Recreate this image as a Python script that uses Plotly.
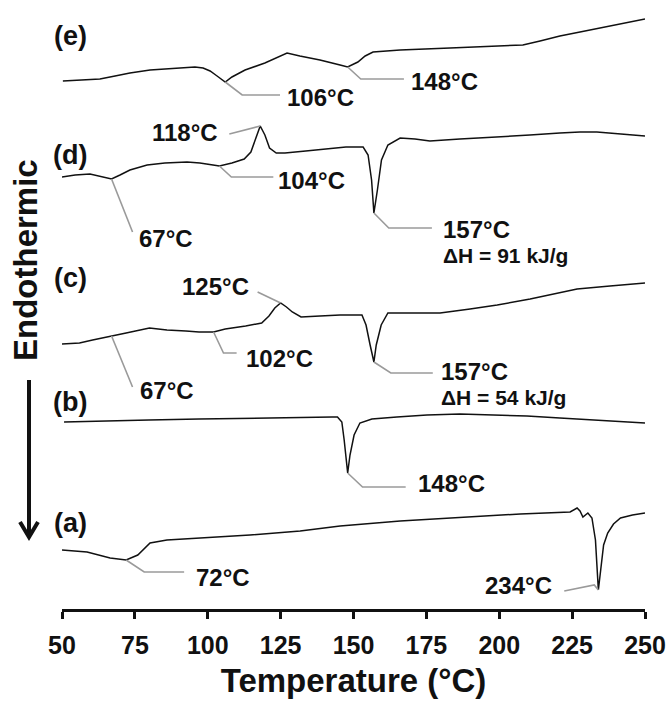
import numpy as np
import plotly.graph_objects as go

FONT = "Liberation Sans, Arial, Helvetica, sans-serif"
INK = "#111111"
LEADER = "#9a9a9a"

# Temperature axis
x_range = [50, 250]
x_ticks = [50, 75, 100, 125, 150, 175, 200, 225, 250]

# DSC heat-flow traces (a.u.), stacked with vertical offsets
temp_a = [50, 58.6, 66.5, 72, 76, 78, 80.2, 86, 97.3, 114.5, 131.7, 145.4, 166, 187.6,
          207.2, 224.3, 226.7, 227.7, 228.7, 230.4, 231.8, 233, 234, 234.8, 235.8,
          237.2, 239.2, 241.6, 245.7, 250]
hf_a = [59, 57, 51, 49, 54, 60, 66, 69, 71, 74, 78, 83, 88, 92,
        95, 97, 101, 98, 92, 96, 91, 69, 19, 39, 64,
        76, 85, 91, 94, 96]

temp_b = [50.7, 62.7, 79.8, 97, 114.2, 131.4, 142.7, 144.5, 146, 146.8, 147.5, 148,
          148.8, 150.2, 152.2, 156.3, 164.9, 175.2, 186.5, 198.2, 209.5, 220.8, 233.5, 250]
hf_b = [187, 188, 189, 190, 191, 192, 192, 192, 187, 169, 149, 136,
        154, 174, 186, 190, 192, 194, 195, 194, 193, 191, 189, 186]

temp_c = [50, 56, 60.5, 64, 67, 72, 80, 86, 92.5, 97, 102, 106, 113, 118.5, 121, 123,
          125, 127, 129, 132, 138.5, 145.4, 152.9, 154.3, 155.7, 157, 157.8, 159.5,
          161.8, 169.4, 179.7, 190, 199.3, 210.6, 220.8, 226.7, 238, 250]
hf_c = [265, 266, 269, 271, 273, 276, 281, 279, 278, 277, 277, 280, 283, 286, 293, 301,
        306, 302, 297, 292, 293, 294, 294, 284, 264, 247, 264, 284,
        296, 296, 296, 300, 304, 310, 316, 320, 323, 326]

temp_d = [50, 54.5, 59.6, 63, 67, 69.9, 73.3, 79.2, 85.3, 92.9, 97.3, 101.8, 104, 108.3,
          112.5, 114.8, 116.2, 118, 119.6, 121.2, 123.5, 126.5, 133.6, 140.5, 147.4,
          153.3, 155, 156.2, 157, 158.2, 159.6, 161.8, 166, 171.1, 176.2, 186.5, 200.3,
          210.5, 220.8, 227.7, 233.5, 241.4, 250]
hf_d = [432, 434, 435, 433, 430, 434, 439, 444, 446, 447, 446, 444, 443, 446,
        450, 457, 469, 483, 474, 461, 456, 456, 458, 460, 462,
        462, 454, 429, 396, 419, 449, 464, 471, 470, 468, 470, 472,
        474, 476, 477, 477, 475, 473]

temp_e = [50.3, 56.2, 63, 68.2, 73.3, 80.2, 88.8, 95.6, 98.4, 100.8, 103.2, 106, 108.3,
          112.8, 119.6, 127.2, 131.6, 138.5, 145.4, 148, 151.5, 154, 156.7, 166, 183.1,
          200.3, 208.1, 214, 220.8, 227.7, 234.6, 241.4, 250]
hf_e = [528, 529, 530, 533, 536, 539, 541, 542, 541, 538, 533, 527, 532,
        539, 546, 556, 553, 549, 544, 542, 547, 553, 557, 559, 561,
        563, 564, 568, 573, 577, 581, 585, 590]

curves = {
    "a": (temp_a, hf_a),
    "b": (temp_b, hf_b),
    "c": (temp_c, hf_c),
    "d": (temp_d, hf_d),
    "e": (temp_e, hf_e),
}

# Transition labels: (curve, temperature, leader steps (dT, dy), text offset, anchor side, text)
transitions = [
    ("e", 106, [(5.8, -13), (13.0, 0)], (1.7, -2), "left", "106°C"),
    ("e", 148, [(4.5, -12), (14.8, 0)], (1.7, -2), "left", "148°C"),
    ("d", 118, [(-10.6, -8)], (-3.1, 2), "right", "118°C"),
    ("d", 104, [(4.1, -11), (14.4, 0)], (1.0, -3), "left", "104°C"),
    ("d", 67, [(7.2, -53)], (1.4, -6), "left", "67°C"),
    ("d", 157, [(5.1, -15), (14.8, 0)], (3.1, -1), "left", "157°C"),
    ("c", 125, [(-7.9, 11)], (-2.4, 6), "right", "125°C"),
    ("c", 102, [(3.4, -21), (4.5, 0)], (2.4, -5), "left", "102°C"),
    ("c", 67, [(7.2, -51)], (1.7, -3), "left", "67°C"),
    ("c", 157, [(5.8, -11), (14.4, 0)], (2.1, 2), "left", "157°C"),
    ("b", 148, [(5.1, -14), (14.8, 0)], (3.4, 4), "left", "148°C"),
    ("a", 72, [(6.2, -12), (13.7, 0)], (3.4, -5), "left", "72°C"),
    ("a", 234, [(-1.4, 5), (-10.3, -6)], (-3.4, 6), "right", "234°C"),
]

# Enthalpy notes printed under the melting labels
enthalpy = [("d", 157, "ΔH = 91 kJ/g"), ("c", 157, "ΔH = 54 kJ/g")]

sample_names = ["(a)", "(b)", "(c)", "(d)", "(e)"]
sample_label_y = [86, 207, 331, 454, 573]

PLOT_W, PLOT_H, LEFT = 583, 609, 62

fig = go.Figure()

for key in ["a", "b", "c", "d", "e"]:
    t, h = curves[key]
    fig.add_trace(go.Scatter(x=t, y=h, mode="lines",
                             line=dict(color=INK, width=1.5),
                             hoverinfo="skip", showlegend=False))

annotations = []
text_ends = {}
for key, temp, steps, toff, side, label in transitions:
    t, h = curves[key]
    y0 = float(np.interp(temp, t, h))
    xs, ys = [temp], [y0]
    for dx, dy in steps:
        xs.append(xs[-1] + dx)
        ys.append(ys[-1] + dy)
    fig.add_trace(go.Scatter(x=xs, y=ys, mode="lines",
                             line=dict(color=LEADER, width=1.6),
                             hoverinfo="skip", showlegend=False))
    tx, ty = xs[-1] + toff[0], ys[-1] + toff[1]
    text_ends[(key, temp)] = (tx, ty)
    annotations.append(dict(x=tx, y=ty, xref="x", yref="y", text=label,
                            showarrow=False, xanchor=side, yanchor="middle",
                            font=dict(family=FONT, size=24, color=INK, weight="bold")))

for key, temp, note in enthalpy:
    tx, ty = text_ends[(key, temp)]
    annotations.append(dict(x=tx, y=ty - 26, xref="x", yref="y", text=note,
                            showarrow=False, xanchor="left", yanchor="middle",
                            font=dict(family=FONT, size=21, color=INK, weight="bold")))

for name, yv in zip(sample_names, sample_label_y):
    annotations.append(dict(x=(70 - LEFT) / PLOT_W, y=yv / PLOT_H, xref="paper", yref="paper",
                            text=name, showarrow=False, xanchor="center", yanchor="middle",
                            font=dict(family=FONT, size=27, color=INK, weight="bold")))

# Vertical axis caption with a downward arrow
annotations.append(dict(x=(25 - LEFT) / PLOT_W, y=(PLOT_H - 260) / PLOT_H,
                        xref="paper", yref="paper",
                        text="Endothermic", textangle=-90, showarrow=False,
                        xanchor="center", yanchor="middle",
                        font=dict(family=FONT, size=33, color=INK, weight="bold")))

ax_x = (29 - LEFT) / PLOT_W
shapes = [
    dict(type="line", xref="paper", yref="paper", x0=ax_x, x1=ax_x,
         y0=(PLOT_H - 380) / PLOT_H, y1=(PLOT_H - 536) / PLOT_H,
         line=dict(color=INK, width=4)),
    dict(type="path", xref="paper", yref="paper",
         path="M {a},{b} L {c},{d} L {e},{f}".format(
             a=(20 - LEFT) / PLOT_W, b=(PLOT_H - 522) / PLOT_H,
             c=ax_x, d=(PLOT_H - 537) / PLOT_H,
             e=(38 - LEFT) / PLOT_W, f=(PLOT_H - 522) / PLOT_H),
         line=dict(color=INK, width=4)),
]

fig.update_layout(
    width=666, height=707,
    margin=dict(l=62, r=21, t=0, b=98),
    paper_bgcolor="white", plot_bgcolor="white",
    annotations=annotations, shapes=shapes,
    xaxis=dict(range=x_range, tickvals=x_ticks, ticks="outside", ticklen=7,
               tickwidth=2.5, tickcolor=INK, showline=True, linewidth=2.5,
               linecolor=INK, showgrid=False, zeroline=False, ticklabelstandoff=5,
               ticklabeloverflow="allow",
               tickfont=dict(family=FONT, size=25, color=INK, weight="bold"),
               title=dict(text="Temperature (°C)", standoff=12,
                          font=dict(family=FONT, size=33, color=INK, weight="bold"))),
    yaxis=dict(range=[0, 609], visible=False, showgrid=False, zeroline=False),
)

fig.write_html("out.html")
